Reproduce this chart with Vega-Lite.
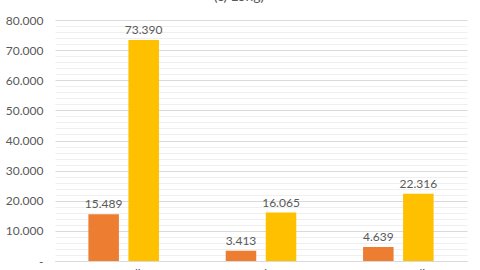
{
  "$schema": "https://vega.github.io/schema/vega-lite/v6.json",
  "autosize": "none",
  "width": 412,
  "height": 241,
  "padding": {"left": 55, "top": 20, "right": 13, "bottom": 9},
  "background": "white",
  "title": {"text": "(c) Long)", "fontSize": 14, "font": "Lato", "fontWeight": "normal", "color": "#595959", "anchor": "middle", "baseline": "bottom", "offset": -4, "dx": -22},
  "config": {"view": {"stroke": null}, "font": "Lato"},
  "data": {"values": [
    {"cat": "FT Quality", "series": "A", "v": 15.489},
    {"cat": "FT Quality", "series": "B", "v": 73.390},
    {"cat": "HD Subway", "series": "A", "v": 3.413},
    {"cat": "HD Subway", "series": "B", "v": 16.065},
    {"cat": "Heavy Quality", "series": "A", "v": 4.639},
    {"cat": "Heavy Quality", "series": "B", "v": 22.316}
  ]},
  "encoding": {
    "x": {"field": "cat", "type": "nominal", "sort": null, "title": null,
      "scale": {"paddingInner": 0, "paddingOuter": 0},
      "axis": {"labelAngle": 0, "ticks": false, "domainColor": "#d9d9d9", "domainWidth": 1, "labelColor": "#595959", "labelFontSize": 12, "labelPadding": 7, "labelFont": "Lato"}},
    "xOffset": {"field": "series", "type": "nominal", "scale": {"paddingInner": 0.2375, "paddingOuter": 0.834}},
    "y": {"field": "v", "type": "quantitative", "title": null,
      "scale": {"domain": [0, 80], "nice": false},
      "axis": {"values": [0,2,4,6,8,10,12,14,16,18,20,22,24,26,28,30,32,34,36,38,40,42,44,46,48,50,52,54,56,58,60,62,64,66,68,70,72,74,76,78,80],
        "labelExpr": "datum.value == 0 ? '-' : (datum.value % 10 == 0 ? format(datum.value, '.3f') : '')",
        "labelOverlap": false, "ticks": false, "domain": false, "labelPadding": 12,
        "labelColor": "#595959", "labelFontSize": 12, "labelFont": "Lato",
        "gridColor": {"condition": {"test": "datum.value % 10 == 0", "value": "#d9d9d9"}, "value": "#efefef"}}}
  },
  "layer": [
    {"mark": {"type": "bar"},
     "encoding": {"color": {"field": "series", "type": "nominal", "legend": null, "scale": {"domain": ["A", "B"], "range": ["#ED7D31", "#FFC000"]}}}},
    {"mark": {"type": "text", "dy": -10, "fontSize": 12, "color": "#595959", "font": "Lato"},
     "encoding": {"text": {"field": "v", "type": "quantitative", "format": ".3f"}}}
  ]
}
